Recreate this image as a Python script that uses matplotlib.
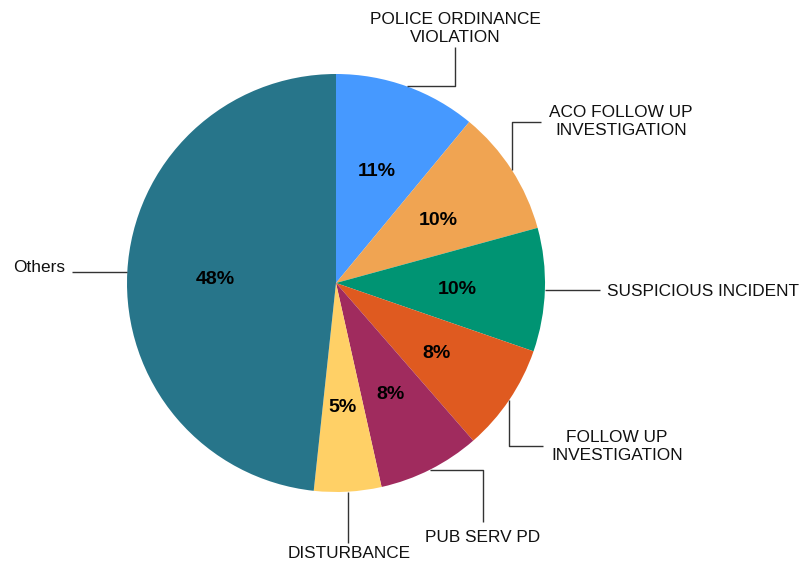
import numpy as np
import matplotlib
matplotlib.use("Agg")
import matplotlib.pyplot as plt

categories = ["POLICE ORDINANCE\nVIOLATION", "ACO FOLLOW UP\nINVESTIGATION", "SUSPICIOUS INCIDENT",
              "FOLLOW UP\nINVESTIGATION", "PUB SERV PD", "DISTURBANCE", "Others"]
values = [11.0, 9.75, 9.55, 8.3, 7.9, 5.2, 48.3]
pct_labels = ["11%", "10%", "10%", "8%", "8%", "5%", "48%"]
colors = ["#4699FF", "#F0A452", "#009473", "#DF5A20", "#A02B5E", "#FFD066", "#27758A"]

# layout: (elbow kind, elbow value, line end, text pos, ha)   in pixel coords (y down)
layout = [
    ("h_then_v", 455, (455, 47), (455, 28), "center"),
    ("v_then_h", 122, (541, 122), (549, 121), "left"),
    ("h", None, (600, 291), (607, 291), "left"),
    ("v_then_h", 446, (543, 446), (617, 447), "center"),
    ("h_then_v", 483, (483, 522), (483, 537), "center"),
    ("v", None, (349, 543), (349, 553), "center"),
    ("h", None, (72, 267), (65, 267), "right"),
]

W, H = 802, 561
plt.rcParams['font.family'] = ['Liberation Sans', 'DejaVu Sans']
fig = plt.figure(figsize=(W / 100, H / 100), dpi=100)
ax = fig.add_axes([0, 0, 1, 1])
cx, cy, R = 336, H - 283, 209

wedges, _, autotexts = ax.pie(values, colors=colors, startangle=90, counterclock=False,
                              center=(cx, cy), radius=R, autopct=lambda p: "",
                              pctdistance=0.58, wedgeprops=dict(linewidth=0))
for at, lab in zip(autotexts, pct_labels):
    at.set_text(lab)
    at.set_fontsize(14)
    at.set_fontweight("bold")
    at.set_color("black")
    px, py = at.get_position()
    at.set_position((px, py - 3))

lc = "#333333"
for w, cat, (kind, ev, end, tpos, ha) in zip(wedges, categories, layout):
    mid = np.deg2rad((w.theta1 + w.theta2) / 2)
    x0 = cx + R * np.cos(mid)
    y0 = cy + R * np.sin(mid)
    ex, ey = end[0], H - end[1]
    if kind == "h_then_v":
        xs, ys = [x0, ev, ev], [y0, y0, ey]
    elif kind == "v_then_h":
        xs, ys = [x0, x0, ex], [y0, H - ev, H - ev]
    elif kind == "h":
        xs, ys = [x0, ex], [y0, y0]
    else:
        xs, ys = [x0, x0], [y0, ey]
    ax.plot(xs, ys, color=lc, lw=1, solid_capstyle="butt")
    ax.text(tpos[0], H - tpos[1], cat, ha=ha, va="center", fontsize=12.4,
            color="#111111", linespacing=1.25, multialignment="center")

ax.set_xlim(0, W)
ax.set_ylim(0, H)
ax.set_aspect("equal")
ax.axis("off")
fig.savefig("out.png", dpi=100, facecolor="white")
